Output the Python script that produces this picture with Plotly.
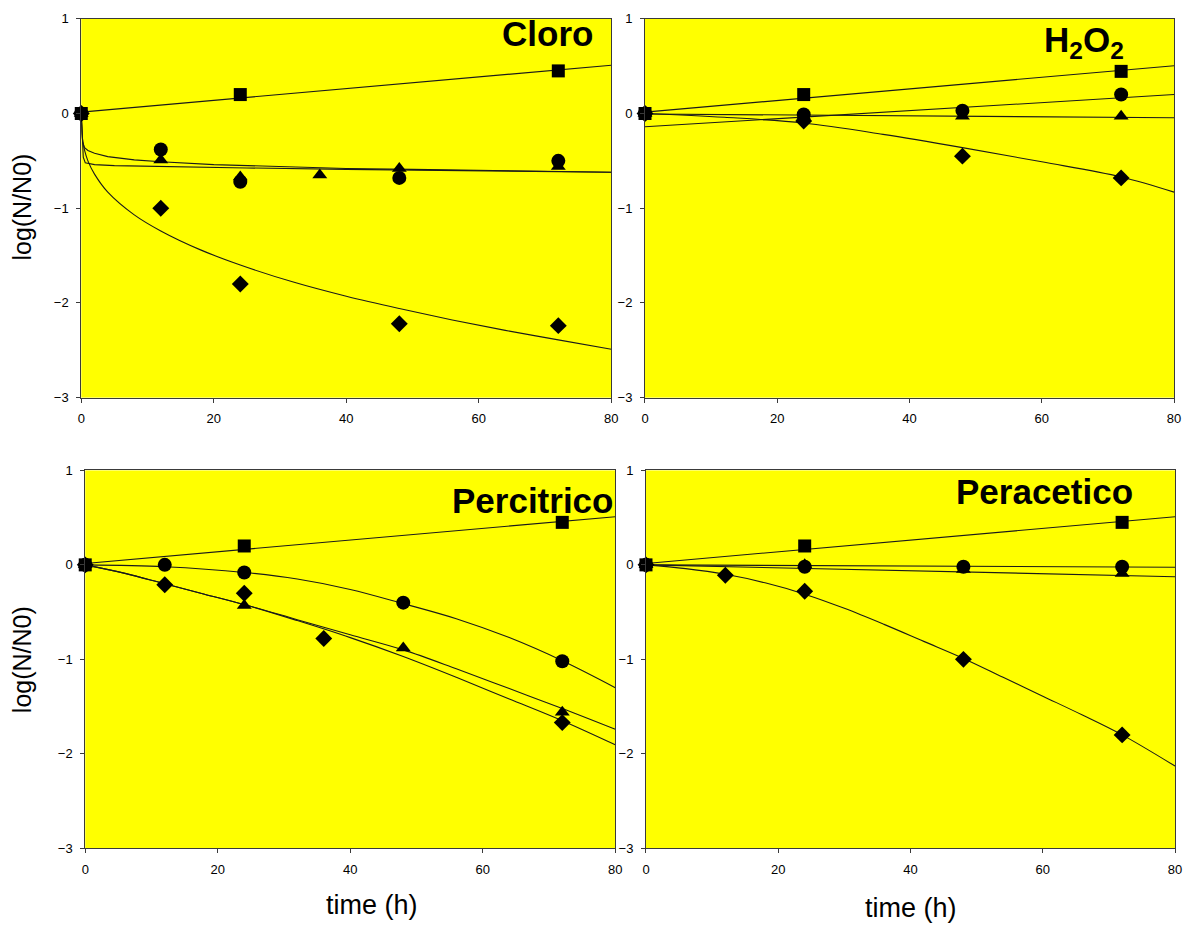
import plotly.graph_objects as go

W, H = 1186, 932

# ---------------- data: measured points ----------------
# Cloro
CLORO_SQ_T = [0, 24, 72]
CLORO_SQ_V = [0, 0.20, 0.45]
CLORO_CI_T = [0, 12, 24, 48, 72]
CLORO_CI_V = [0, -0.38, -0.72, -0.68, -0.50]
CLORO_TR_T = [0, 12, 24, 36, 48, 72]
CLORO_TR_V = [0, -0.49, -0.67, -0.65, -0.58, -0.56]
CLORO_DI_T = [0, 12, 24, 48, 72]
CLORO_DI_V = [0, -1.00, -1.80, -2.22, -2.24]

# H2O2
H2O2_SQ_T = [0, 24, 72]
H2O2_SQ_V = [0, 0.20, 0.445]
H2O2_CI_T = [0, 24, 48, 72]
H2O2_CI_V = [0, -0.01, 0.03, 0.20]
H2O2_TR_T = [0, 24, 48, 72]
H2O2_TR_V = [0, -0.03, -0.03, -0.03]
H2O2_DI_T = [0, 24, 48, 72]
H2O2_DI_V = [0, -0.08, -0.45, -0.68]

# Percitrico
PERC_SQ_T = [0, 24, 72]
PERC_SQ_V = [0, 0.20, 0.45]
PERC_CI_T = [0, 12, 24, 48, 72]
PERC_CI_V = [0, 0.0, -0.08, -0.40, -1.02]
PERC_TR_T = [0, 24, 48, 72]
PERC_TR_V = [0, -0.43, -0.88, -1.56]
PERC_DI_T = [0, 12, 24, 36, 72]
PERC_DI_V = [0, -0.21, -0.30, -0.78, -1.67]

# Peracetico
PERA_SQ_T = [0, 24, 72]
PERA_SQ_V = [0, 0.20, 0.45]
PERA_CI_T = [0, 24, 48, 72]
PERA_CI_V = [0, -0.02, -0.02, -0.02]
PERA_TR_T = [0, 24, 48, 72]
PERA_TR_V = [0, 0.0, -0.05, -0.09]
PERA_DI_T = [0, 12, 24, 48, 72]
PERA_DI_V = [0, -0.11, -0.28, -1.00, -1.80]

# ---------------- data: fitted curves ----------------
FIT_CLORO_SQ_T = [0, 80]
FIT_CLORO_SQ_V = [0.015, 0.51]
FIT_CLORO_CI_T = [0, 0.2, 0.5, 1, 2, 4, 8, 12, 20, 30, 40, 50, 60, 70, 80]
FIT_CLORO_CI_V = [0, -0.30, -0.36, -0.39, -0.42, -0.455, -0.49, -0.51, -0.54, -0.56, -0.58, -0.59, -0.60, -0.61, -0.62]
FIT_CLORO_TR_T = [0, 0.3, 0.6, 2, 5, 12, 25, 40, 60, 80]
FIT_CLORO_TR_V = [0, -0.46, -0.52, -0.54, -0.55, -0.56, -0.575, -0.59, -0.605, -0.62]
FIT_CLORO_DI_T = [0, 0.1, 0.25, 0.5, 1, 2, 4, 8, 12, 18, 24, 32, 40, 48, 56, 64, 72, 80]
FIT_CLORO_DI_V = [0, -0.21, -0.30, -0.39, -0.50, -0.64, -0.83, -1.07, -1.24, -1.44, -1.60, -1.78,
                  -1.93, -2.06, -2.18, -2.29, -2.39, -2.49]

FIT_H2O2_SQ_T = [0, 80]
FIT_H2O2_SQ_V = [0.015, 0.505]
FIT_H2O2_CI_T = [0, 80]
FIT_H2O2_CI_V = [-0.14, 0.20]
FIT_H2O2_TR_T = [0, 80]
FIT_H2O2_TR_V = [-0.005, -0.045]
FIT_H2O2_DI_T = [0, 12, 24, 36, 48, 60, 72, 80]
FIT_H2O2_DI_V = [0, -0.04, -0.10, -0.22, -0.36, -0.51, -0.67, -0.83]

FIT_PERC_SQ_T = [0, 80]
FIT_PERC_SQ_V = [0.015, 0.51]
FIT_PERC_CI_T = [0, 12, 24, 32, 40, 48, 56, 64, 72, 80]
FIT_PERC_CI_V = [0, -0.02, -0.08, -0.15, -0.26, -0.41, -0.57, -0.77, -1.015, -1.30]
FIT_PERC_TR_T = [0, 6, 12, 18, 24, 32, 40, 48, 56, 64, 72, 80]
FIT_PERC_TR_V = [0, -0.09, -0.20, -0.31, -0.42, -0.58, -0.74, -0.90, -1.10, -1.31, -1.52, -1.74]
FIT_PERC_DI_T = [0, 6, 12, 18, 24, 32, 40, 48, 56, 64, 72, 80]
FIT_PERC_DI_V = [0, -0.09, -0.20, -0.31, -0.42, -0.59, -0.77, -0.97, -1.19, -1.42, -1.65, -1.905]

FIT_PERA_SQ_T = [0, 80]
FIT_PERA_SQ_V = [0.015, 0.51]
FIT_PERA_CI_T = [0, 80]
FIT_PERA_CI_V = [0, -0.025]
FIT_PERA_TR_T = [0, 80]
FIT_PERA_TR_V = [0, -0.125]
FIT_PERA_DI_T = [0, 6, 12, 18, 24, 30, 36, 42, 48, 54, 60, 66, 72, 80]
FIT_PERA_DI_V = [0, -0.04, -0.10, -0.19, -0.31, -0.46, -0.63, -0.81, -0.99, -1.19, -1.39, -1.59, -1.80, -2.13]

X_TICKS = [0, 20, 40, 60, 80]
Y_TICKS = [-3, -2, -1, 0, 1]
PANEL_TITLES = ["Cloro", "H<sub>2</sub>O<sub>2</sub>", "Percitrico", "Peracetico"]
Y_TITLE = "log(N/N0)"
X_TITLE = "time (h)"

# ---------------- figure ----------------
FONT = "Arial, Liberation Sans, sans-serif"
fig = go.Figure()

SYMBOLS = {"sq": ("square", 13), "ci": ("circle", 14), "tr": ("triangle-up", 13), "di": ("diamond", 13)}

panels = [
    ("x", "y", {
        "sq": (CLORO_SQ_T, CLORO_SQ_V, FIT_CLORO_SQ_T, FIT_CLORO_SQ_V, "linear"),
        "ci": (CLORO_CI_T, CLORO_CI_V, FIT_CLORO_CI_T, FIT_CLORO_CI_V, "linear"),
        "tr": (CLORO_TR_T, CLORO_TR_V, FIT_CLORO_TR_T, FIT_CLORO_TR_V, "linear"),
        "di": (CLORO_DI_T, CLORO_DI_V, FIT_CLORO_DI_T, FIT_CLORO_DI_V, "spline"),
    }),
    ("x2", "y2", {
        "sq": (H2O2_SQ_T, H2O2_SQ_V, FIT_H2O2_SQ_T, FIT_H2O2_SQ_V, "linear"),
        "ci": (H2O2_CI_T, H2O2_CI_V, FIT_H2O2_CI_T, FIT_H2O2_CI_V, "linear"),
        "tr": (H2O2_TR_T, H2O2_TR_V, FIT_H2O2_TR_T, FIT_H2O2_TR_V, "linear"),
        "di": (H2O2_DI_T, H2O2_DI_V, FIT_H2O2_DI_T, FIT_H2O2_DI_V, "spline"),
    }),
    ("x3", "y3", {
        "sq": (PERC_SQ_T, PERC_SQ_V, FIT_PERC_SQ_T, FIT_PERC_SQ_V, "linear"),
        "ci": (PERC_CI_T, PERC_CI_V, FIT_PERC_CI_T, FIT_PERC_CI_V, "spline"),
        "tr": (PERC_TR_T, PERC_TR_V, FIT_PERC_TR_T, FIT_PERC_TR_V, "spline"),
        "di": (PERC_DI_T, PERC_DI_V, FIT_PERC_DI_T, FIT_PERC_DI_V, "spline"),
    }),
    ("x4", "y4", {
        "sq": (PERA_SQ_T, PERA_SQ_V, FIT_PERA_SQ_T, FIT_PERA_SQ_V, "linear"),
        "ci": (PERA_CI_T, PERA_CI_V, FIT_PERA_CI_T, FIT_PERA_CI_V, "linear"),
        "tr": (PERA_TR_T, PERA_TR_V, FIT_PERA_TR_T, FIT_PERA_TR_V, "linear"),
        "di": (PERA_DI_T, PERA_DI_V, FIT_PERA_DI_T, FIT_PERA_DI_V, "spline"),
    }),
]

for xa, ya, series in panels:
    # fitted curves
    for key in ["sq", "ci", "tr", "di"]:
        t, v, ft, fv, shape = series[key]
        fig.add_trace(go.Scatter(x=ft, y=fv, mode="lines", xaxis=xa, yaxis=ya,
                                 line=dict(color="#1a1a1a", width=1.1, shape=shape),
                                 showlegend=False, hoverinfo="skip"))
    # markers
    for key in ["sq", "tr", "di", "ci"]:
        t, v, ft, fv, shape = series[key]
        sym, size = SYMBOLS[key]
        fig.add_trace(go.Scatter(x=t, y=v, mode="markers", xaxis=xa, yaxis=ya,
                                 marker=dict(symbol=sym, size=size, color="black",
                                             line=dict(width=0)),
                                 cliponaxis=False, showlegend=False))

# panel pixel boxes (left, right, top, bottom)
boxes = [(78, 613, 12, 397), (647, 1181, 12, 397), (82, 617, 471, 855), (648, 1182, 471, 855)]


def px_x(p):
    return p / W


def px_y(p):
    return 1 - p / H


axis_common = dict(showgrid=False, zeroline=False, showline=True, linecolor="#3a3a3a",
                   linewidth=1, mirror=True, ticks="outside", ticklen=4, tickwidth=1,
                   tickcolor="#3a3a3a", tickfont=dict(family=FONT, size=13, color="black"))

layout_axes = {}
for i, (l, r, t, b) in enumerate(boxes):
    sfx = "" if i == 0 else str(i + 1)
    layout_axes["xaxis" + sfx] = dict(axis_common, domain=[px_x(l), px_x(r)], range=[0, 80],
                                      tickvals=X_TICKS, anchor="y" + sfx,
                                      ticklabelstandoff=5)
    layout_axes["yaxis" + sfx] = dict(axis_common, domain=[px_y(b), px_y(t)], range=[-3, 1],
                                      tickvals=Y_TICKS, anchor="x" + sfx,
                                      ticklabelstandoff=5)

annotations = []
# panel titles: (text, right-edge px, center-y px)
title_pos = [(597, 27), (1132, 36), (617, 502), (1142, 492)]
for text, (xr, yc) in zip(PANEL_TITLES, title_pos):
    annotations.append(dict(text="<b>" + text + "</b>", xref="paper", yref="paper",
                            x=px_x(xr), y=px_y(yc), xanchor="right", yanchor="middle",
                            showarrow=False, font=dict(family=FONT, size=35, color="black")))
# y titles
for yc in [203, 663]:
    annotations.append(dict(text=Y_TITLE, xref="paper", yref="paper", x=px_x(18), y=px_y(yc),
                            xanchor="center", yanchor="middle", textangle=-90, showarrow=False,
                            font=dict(family=FONT, size=25, color="black")))
# x titles
for xc, yc in [(371, 913), (915, 916)]:
    annotations.append(dict(text=X_TITLE, xref="paper", yref="paper", x=px_x(xc), y=px_y(yc),
                            xanchor="center", yanchor="middle", showarrow=False,
                            font=dict(family=FONT, size=27, color="black")))

fig.update_layout(
    width=W, height=H,
    margin=dict(l=0, r=0, t=0, b=0),
    paper_bgcolor="white",
    plot_bgcolor="#FFFF00",
    showlegend=False,
    annotations=annotations,
    **layout_axes,
)

fig.write_html("out.html",
               post_script="document.body.style.margin='0px';document.body.style.overflow='hidden';")
